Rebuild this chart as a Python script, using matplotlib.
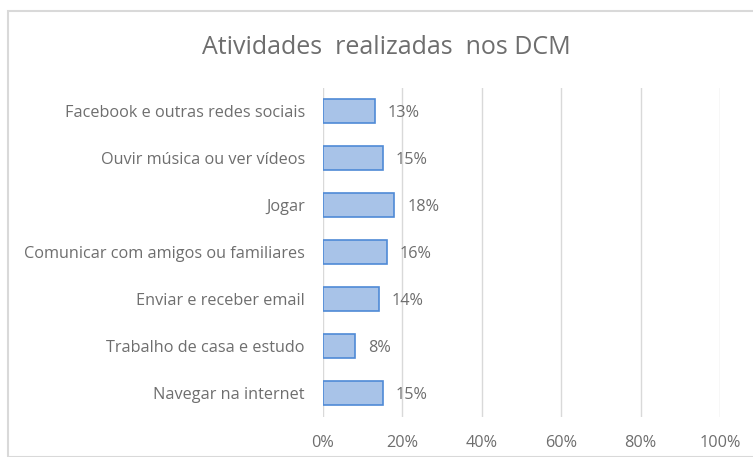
import matplotlib
matplotlib.use("Agg")
import matplotlib.pyplot as plt
from matplotlib.patches import Rectangle
import numpy as np

categories = ["Facebook e outras redes sociais", "Ouvir música ou ver vídeos", "Jogar",
              "Comunicar com amigos ou familiares", "Enviar e receber email",
              "Trabalho de casa e estudo", "Navegar na internet"]
values = [13, 15, 18, 16, 14, 8, 15]
xticks = [0, 20, 40, 60, 80, 100]
xticklabels = ["0%", "20%", "40%", "60%", "80%", "100%"]
title = "Atividades  realizadas  nos DCM"

plt.rcParams['font.family'] = ['Open Sans', 'DejaVu Sans']
W, H = 753, 457
fig = plt.figure(figsize=(W/100, H/100), dpi=100)
fig.patch.set_facecolor("white")
tc = "#6e6e6e"

# chart border
fig.patches.append(Rectangle((8/W, 0), 1.2, 1 - 11/H, transform=fig.transFigure,
                             fill=False, edgecolor="#d9d9d9", linewidth=1.5))

ax = fig.add_axes([323/W, 1 - 416.5/H, (720-323)/W, (416.5-87.5)/H])
y = np.arange(len(categories))
bars = ax.barh(y, values, height=0.51, color="#a8c3e8", edgecolor="#4f8ad6", linewidth=1.2, zorder=3)
ax.set_ylim(len(categories) - 0.5, -0.5)
ax.set_xlim(0, 100)
ax.set_yticks(y)
ax.set_yticklabels(categories, fontsize=11.7, color=tc)
ax.set_xticks(xticks)
ax.set_xticklabels(xticklabels, fontsize=11.7, color=tc)
ax.tick_params(axis='both', length=0)
ax.tick_params(axis='y', pad=13)
ax.tick_params(axis='x', pad=13)
ax.grid(axis='x', color="#d9d9d9", linewidth=1, zorder=0)
for s in ax.spines.values():
    s.set_visible(False)
for yi, v in zip(y, values):
    ax.annotate(f"{v}%", (v, yi), xytext=(9.5, 0), textcoords="offset points",
                va="center_baseline", ha="left", fontsize=11.7, color=tc)

fig.text(386/W, 1 - 47/H, title, ha="center", va="center", fontsize=18, color=tc)
fig.savefig("out.png", dpi=100)
